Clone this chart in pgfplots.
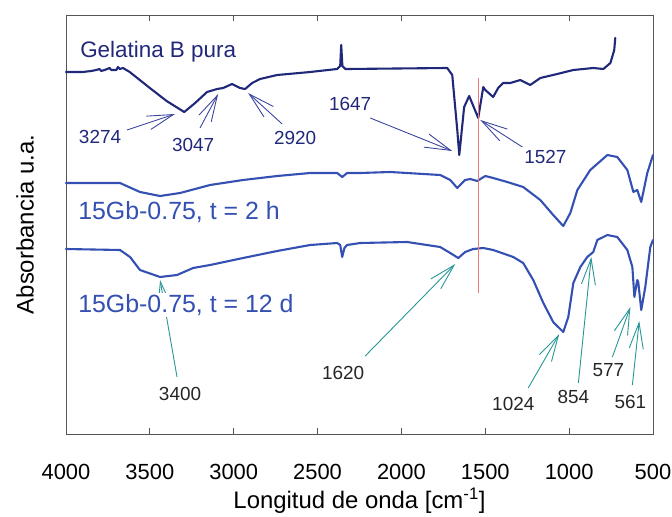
\documentclass[border=0pt]{standalone}
\usepackage{pgfplots}
\pgfplotsset{compat=1.18}
\usepackage{fontspec}
\setmainfont{Liberation Sans}
\usetikzlibrary{arrows.meta}

\definecolor{navy}{RGB}{32,40,122}
\definecolor{navyarrow}{RGB}{60,70,160}
\definecolor{specblue}{RGB}{52,80,178}
\definecolor{tealarrow}{RGB}{40,150,150}
\definecolor{refred}{RGB}{240,120,120}
\definecolor{framegray}{RGB}{85,85,85}

\begin{document}
\begin{tikzpicture}[
  annot/.style={line width=0.9bp, -{Straight Barb[length=26bp,width=14bp]}},
  num/.style={font=\fontsize{19}{22}\selectfont, inner sep=1bp},
  spec/.style={line width=2.1bp, line join=round, line cap=round},
]
\begin{axis}[
  name=ax,
  scale only axis,
  width=587bp, height=419bp,
  xmin=500, xmax=4000,
  ymin=15, ymax=434,
  x dir=reverse,
  y dir=reverse,
  clip=false,
  axis line style={framegray, line width=0.8bp},
  xtick={500,1000,1500,2000,2500,3000,3500,4000},
  xticklabels={500,1000,1500,2000,2500,3000,3500,4000},
  scaled x ticks=false,
  ytick=\empty,
  tick align=inside,
  xtick pos=both,
  major tick length=6bp,
  tick style={framegray, line width=0.8bp},
  /pgf/number format/assume math mode=true,
  xticklabel style={font=\fontsize{22}{26}\selectfont, yshift=-27bp},
  xlabel={Longitud de onda [cm\textsuperscript{-1}]},
  ylabel={Absorbancia u.a.},
  xlabel style={font=\fontsize{24}{28}\selectfont, at={(axis description cs:0.5,-0.1600)}, anchor=center},
  ylabel style={font=\fontsize{24}{28}\selectfont, at={(axis description cs:-0.0698,0.5)}, anchor=center},
]

% Gelatina B pura
\addplot[navy, spec] coordinates {
 (4000,72) (3900,72) (3850,71) (3820,70) (3800,69) (3790,71) (3770,70)
 (3740,68) (3730,70) (3700,70) (3690,67) (3680,69) (3660,68) (3640,70)
 (3620,72) (3500,88) (3400,101) (3295,112) (3230,103) (3159,92)
 (3099,89) (3063,88) (3010,84) (2962,88) (2932,89) (2890,83) (2843,79)
 (2741,75) (2544,72) (2383,69) (2365,66) (2359,45) (2352,66) (2335,69)
 (2324,69) (1727,68) (1697,75) (1667,130) (1655,155) (1626,107)
 (1596,96) (1542,118) (1512,87) (1500,90) (1453,97) (1423,88) (1393,83)
 (1351,83) (1291,80) (1232,85) (1172,78) (1071,74) (975,70) (856,68)
 (796,69) (754,63) (731,50) (725,38)
};

% 15Gb-0.75, t = 2 h
\addplot[specblue, spec] coordinates {
 (4000,183) (3678,183) (3559,192) (3439,196) (3320,193) (3141,185)
 (2944,180) (2741,176) (2544,173) (2383,173) (2353,177) (2324,173)
 (2246,173) (2067,172) (1769,175) (1709,180) (1667,188) (1620,180)
 (1590,179) (1548,181) (1500,176) (1453,178) (1369,182) (1274,187)
 (1172,200) (1095,215) (1035,226) (993,213) (951,190) (874,170)
 (772,155) (713,157) (653,170) (617,192) (594,190) (570,202) (534,173)
 (500,155)
};

% 15Gb-0.75, t = 12 d
\addplot[specblue, spec] coordinates {
 (4000,249) (3678,250) (3618,257) (3559,270) (3439,277) (3338,275)
 (3242,268) (3141,265) (2944,258) (2741,251) (2544,245) (2383,243)
 (2365,245) (2353,257) (2340,248) (2324,245) (2246,243) (1966,242)
 (1769,247) (1709,253) (1661,258) (1620,252) (1572,249) (1512,248)
 (1453,250) (1333,257) (1274,263) (1214,280) (1154,303) (1095,322)
 (1035,332) (1005,317) (975,283) (933,267) (892,257) (856,252)
 (832,240) (772,235) (713,237) (653,250) (623,267) (611,297) (594,280)
 (588,282) (570,310) (546,287) (516,247) (500,240)
};

% amide II reference line
\addplot[refred, line width=0.9bp] coordinates {(1542,78) (1542,293)};

% band assignments, gelatin
\draw[annot, navyarrow] (3636,130) -- (3350,114);
\node[num, navy] at (3797,137) {3274};
\draw[annot, navyarrow] (3201,128) -- (3093,94);
\node[num, navy] at (3242,145) {3047};
\draw[annot, navyarrow] (2711,124) -- (2914,93);
\node[num, navy] at (2634,138) {2920};
\draw[annot, navyarrow] (2186,118) -- (1697,151);
\node[num, navy] at (2306,104) {1647};
\draw[annot, navyarrow] (1279,147) -- (1530,120);
\node[num, navy] at (1142,157) {1527};

% band assignments, 12 d sample
\draw[annot, tealarrow] (3338,377) -- (3439,280);
\node[num, black!85] at (3320,394) {3400};
\draw[annot, tealarrow] (2216,356) -- (1679,264);
\node[num, black!85] at (2347,373) {1620};
\draw[annot, tealarrow] (1244,388) -- (1059,334);
\node[num, black!85] at (1333,404) {1024};
\draw[annot, tealarrow] (945,383) -- (868,257);
\node[num, black!85] at (975,397) {854};
\draw[annot, tealarrow] (742,357) -- (635,307);
\node[num, black!85] at (766,370) {577};
\draw[annot, tealarrow] (623,385) -- (582,321);
\node[num, black!85] at (635,402) {561};

% sample names
\node[anchor=west, navy, font=\fontsize{22.5}{26}\selectfont, inner sep=0pt] at (3916,52) {Gelatina B pura};
\node[anchor=west, specblue, font=\fontsize{25}{29}\selectfont, inner sep=0pt] at (3928,212) {15Gb-0.75, t = 2 h};
\node[anchor=west, specblue, font=\fontsize{25}{29}\selectfont, fill=white, inner xsep=0pt, inner ysep=1bp] at (3928,305) {15Gb-0.75, t = 12 d};

\end{axis}
\pgfresetboundingbox
\path ([shift={(-66bp,-83bp)}]ax.south west) rectangle ([shift={(19bp,15bp)}]ax.north east);
\end{tikzpicture}
\end{document}
